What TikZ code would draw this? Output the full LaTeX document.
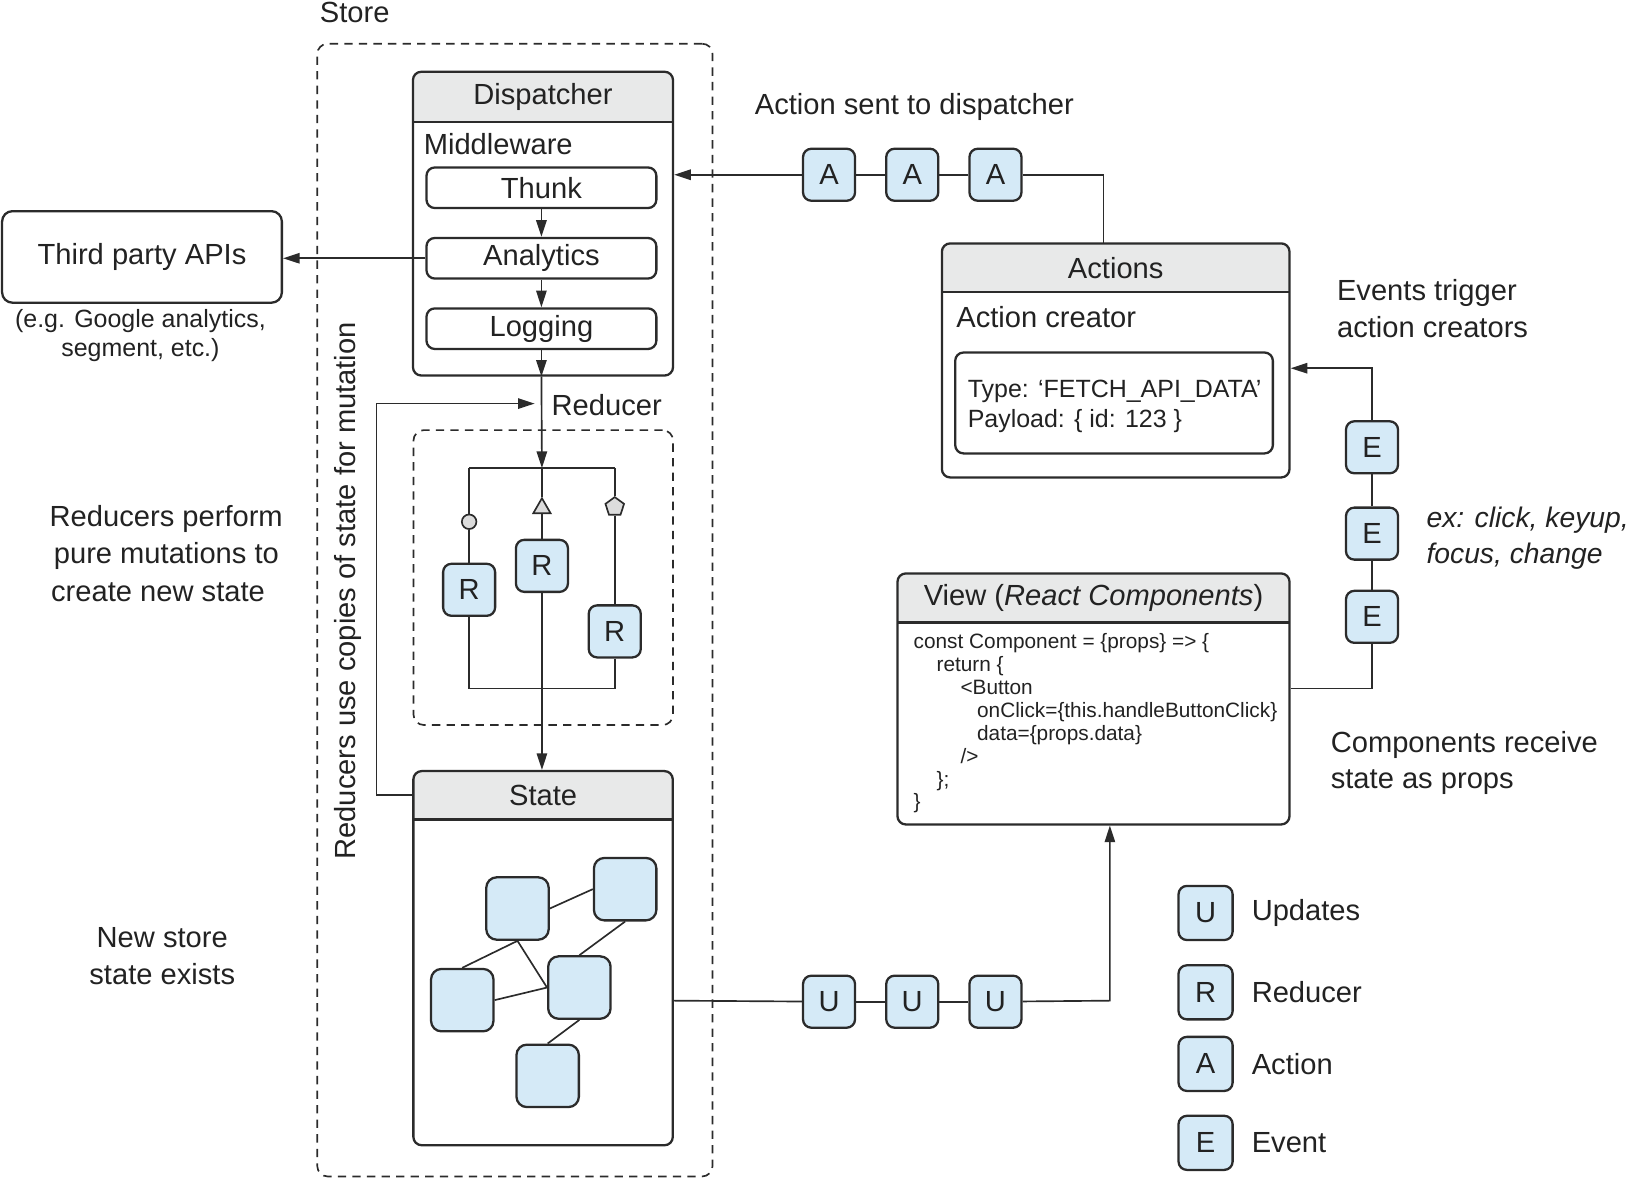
\documentclass[tikz,border=0pt]{standalone}
\usepackage{fontspec}
\setmainfont{Liberation Sans}
\usetikzlibrary{arrows.meta,shapes.geometric,fit}
\definecolor{lc}{HTML}{2B2B2B}
\definecolor{tc}{HTML}{222222}
\definecolor{hdr}{HTML}{E8E9E9}
\definecolor{tok}{HTML}{D5EAF7}
\definecolor{markfill}{HTML}{DCDCDC}
\newcommand\hdrfill[5]{%
  \begin{scope}\clip[rounded corners=4pt] (#1,#2) rectangle (#3,#4);
  \fill[hdr] (#1,#2) rectangle (#3,#5);\end{scope}
  \draw[lc, line width=1.1pt] (#1,#5) -- (#3,#5);}
\begin{document}
\begin{tikzpicture}[x=0.5pt,y=-0.5pt,
  every node/.style={font=\fontsize{14}{18}\selectfont, text=tc},
  frame/.style={draw=lc, line width=1.1pt, rounded corners=4pt, inner sep=0pt},
  dashframe/.style={draw=lc, line width=0.8pt, rounded corners=5pt, inner sep=0pt, dash pattern=on 4pt off 3pt},
  sub/.style={draw=lc, line width=1.1pt, rounded corners=4pt, inner sep=0pt},
  tokbox/.style={draw=lc, fill=tok, line width=1.1pt, rounded corners=4pt, minimum width=25pt, minimum height=25pt, inner sep=0pt},
  legbox/.style={tokbox, minimum width=26pt, minimum height=26pt},
  sbox/.style={draw=lc, fill=tok, line width=1.1pt, rounded corners=5pt, minimum width=30pt, minimum height=30pt, inner sep=0pt},
  conn/.style={draw=lc, line width=0.8pt},
  arr/.style={conn, -{Triangle[length=8pt,width=5pt]}},
  lbl/.style={inner sep=0pt},
  area/.style={inner sep=0pt},
]
\useasboundingbox (0,0) rectangle (1568,1134);

% ---------- Store ----------
\node[dashframe, fit={(305,42)(685,1131)}] (store) {};
\node[lbl] (storel) at (341,12) {Store};

% ---------- Dispatcher ----------
\hdrfill{397}{69}{647}{361}{117}
\node[frame, fit={(397,69)(647,361)}] (disp) {};
\node[area, fit={(397,69)(647,117)}] (disph) {};
\node[lbl] (displ) at (disph.center) {Dispatcher};
\node[lbl, anchor=west] (mw) at (407,139) {Middleware};
\node[sub, minimum width=110.5pt, minimum height=19.5pt] (thunk) at (520.5,180.5) {Thunk};
\node[sub, minimum width=110.5pt, minimum height=19.5pt] (analytics) at (520.5,248.3) {Analytics};
\node[sub, minimum width=110.5pt, minimum height=19.5pt] (logging) at (520.5,316) {Logging};
\draw[arr] (thunk) -- (analytics);
\draw[arr] (analytics) -- (logging);
\draw[arr] (logging) -- (logging |- disp.south);

% ---------- Third party ----------
\node[sub, rounded corners=5pt, minimum width=134.5pt, minimum height=44pt] (tpa) at (136.5,247) {Third party APIs};
\node[lbl, align=center, font=\fontsize{12}{14}\selectfont] (tpal) at (135,323) {(e.g. Google analytics,\\segment, etc.)};
\draw[arr] (analytics.west) -- (analytics.west -| tpa.east);

% ---------- Reducers ----------
\node[dashframe, fit={(397.5,413.5)(647,697)}] (redbox) {};
\node[lbl, anchor=west] (redl) at (530,389) {Reducer};
\coordinate (btl) at (451,450);
\coordinate (btm) at (521,450);
\coordinate (btr) at (591,450);
\coordinate (bbl) at (451,662);
\coordinate (bbr) at (591,662);
\node[tokbox] (rl) at (451,567) {R};
\node[tokbox] (rm) at (521,544) {R};
\node[tokbox] (rr) at (591,607) {R};
\node[circle, draw=lc, fill=markfill, line width=0.8pt, minimum size=7pt, inner sep=0pt] (mc) at (451,501.6) {};
\node[regular polygon, regular polygon sides=3, draw=lc, fill=markfill, line width=0.8pt, minimum size=9.6pt, inner sep=0pt] (mt) at (521,488.6) {};
\node[regular polygon, regular polygon sides=5, draw=lc, fill=markfill, line width=0.8pt, minimum size=9.4pt, inner sep=0pt] (mp) at (591,487.3) {};
\draw[arr] (logging |- disp.south) -- (btm);
\draw[conn] (btl) -- (btr);
\draw[conn] (bbl) -- (bbr);
\draw[conn] (btl) -- (mc);
\draw[conn] (mc) -- (rl);
\draw[conn] (rl) -- (bbl);
\draw[conn] (btm) -- (mt);
\draw[conn] (mt) -- (rm);
\draw[conn] (btr) -- (mp);
\draw[conn] (mp) -- (rr);
\draw[conn] (rr) -- (bbr);

% ---------- State ----------
\hdrfill{397.4}{741.3}{646.8}{1101}{787.8}
\node[frame, fit={(397.4,741.3)(646.8,1101)}] (state) {};
\node[area, fit={(397.4,741.3)(646.8,787.8)}] (stateh) {};
\node[lbl] (statel) at (stateh.center) {State};
\draw[arr] (rm) -- (rm |- state.north);
\node[sbox] (b1) at (497.5,873.4) {};
\node[sbox] (b2) at (601,854.8) {};
\node[sbox] (b3) at (444.4,961.5) {};
\node[sbox] (b4) at (557,949.4) {};
\node[sbox] (b5) at (526.5,1034.3) {};
\draw[conn] (b1.east) -- (b2.west);
\draw[conn] (b1.south) -- (b3.north);
\draw[conn] (b1.south) -- (b4.west);
\draw[conn] (b3.east) -- (b4.west);
\draw[conn] (b2.south) -- (b4.north);
\draw[conn] (b4.south) -- (b5.north);

% feedback loop
\coordinate (fbk) at (362,388);
\coordinate (fbe) at (514,388);
\draw[arr] (state.west |- stateh) -| (fbk) -- (fbe);
\node[lbl, rotate=90] (copies) at (335,568) {Reducers use copies of state for mutation};

% ---------- Left notes ----------
\node[lbl, anchor=west, align=left] (note1) at (47.4,532) {Reducers perform\\\hspace*{2pt}pure mutations to\\\hspace*{0.7pt}create new state};
\node[lbl, align=center] (note2) at (156,919) {New store\\state exists};

% ---------- Actions ----------
\hdrfill{905.5}{234}{1239.7}{459}{281}
\node[frame, fit={(905.5,234)(1239.7,459)}] (actions) {};
\node[area, fit={(905.5,234)(1239.7,281)}] (actionsh) {};
\node[lbl] (actionsl) at (actionsh.center) {Actions};
\node[lbl, anchor=west] (acreator) at (919,305) {Action creator};
\node[sub, minimum width=152.7pt, minimum height=48.5pt] (payload) at (1071,387.4) {};
\node[lbl, anchor=west, align=left, font=\fontsize{12}{14.5}\selectfont] (payloadt) at (930,391) {Type: ‘FETCH\_API\_DATA’\\Payload: \{ id: 123 \}};

% action tokens
\node[tokbox] (a1) at (797,168) {A};
\node[tokbox] (a2) at (877,168) {A};
\node[tokbox] (a3) at (957,168) {A};
\coordinate (acttop) at (1061,234);
\draw[conn] (acttop) |- (a3.east);
\draw[conn] (a3) -- (a2);
\draw[conn] (a2) -- (a1);
\draw[arr] (a1) -- (a1 -| disp.east);
\node[lbl] (asent) at (879,103) {Action sent to dispatcher};

% ---------- View ----------
\hdrfill{862.8}{551.3}{1239.7}{792.6}{598.4}
\node[frame, fit={(862.8,551.3)(1239.7,792.6)}] (view) {};
\node[area, fit={(862.8,551.3)(1239.7,598.4)}] (viewh) {};
\node[lbl] (viewl) at (viewh.center) {View (\textit{React Components})};
\node[lbl, anchor=west, align=left, font=\fontsize{10}{11}\selectfont] (code) at (878,695.5) {const Component = \{props\} => \{\\
\hspace*{11pt}return \{\\
\hspace*{22.5pt}<Button\\
\hspace*{30.5pt}onClick=\{this.handleButtonClick\}\\
\hspace*{30.5pt}data=\{props.data\}\\
\hspace*{22.5pt}/>\\
\hspace*{11pt}\};\\
\}};

% events
\node[tokbox] (e1) at (1319,430) {E};
\node[tokbox] (e2) at (1319,513) {E};
\node[tokbox] (e3) at (1319,593) {E};
\coordinate (evb) at (1319,662);
\coordinate (evt) at (1319,354);
\draw[conn] (evb -| view.east) -- (evb) -- (e3);
\draw[conn] (e3) -- (e2);
\draw[conn] (e2) -- (e1);
\draw[arr] (e1) -- (evt) -- (evt -| actions.east);
\node[lbl, anchor=west, align=left, font=\fontsize{14}{17.5}\selectfont] (evtrig) at (1285,296.5) {Events trigger\\action creators};
\node[lbl, anchor=west, align=left, font=\fontsize{13.6}{17.5}\selectfont\itshape] (evex) at (1371,517.5) {ex: click, keyup,\\focus, change};
\node[lbl, anchor=west, align=left, font=\fontsize{14}{17.5}\selectfont] (comprx) at (1279,733.5) {Components receive\\state as props};

% updates
\node[tokbox] (u1) at (797,963) {U};
\node[tokbox] (u2) at (877,963) {U};
\node[tokbox] (u3) at (957,963) {U};
\coordinate (upr) at (1067,962);
\draw[conn] (upr -| state.east) -- (u1);
\draw[conn] (u1) -- (u2);
\draw[conn] (u2) -- (u3);
\draw[arr] (u3) -- (upr) -- (upr |- view.south);

% ---------- Legend ----------
\node[legbox] (lu) at (1159,877.7) {U};
\node[legbox] (lr) at (1159,954) {R};
\node[legbox] (la) at (1159,1022.8) {A};
\node[legbox] (le) at (1159,1098.7) {E};
\node[lbl, anchor=west] (lut) at (1203,877.7) {Updates};
\node[lbl, anchor=west] (lrt) at (1203,954) {Reducer};
\node[lbl, anchor=west] (lat) at (1203,1022.8) {Action};
\node[lbl, anchor=west] (let) at (1203,1098.7) {Event};
\end{tikzpicture}
\end{document}
